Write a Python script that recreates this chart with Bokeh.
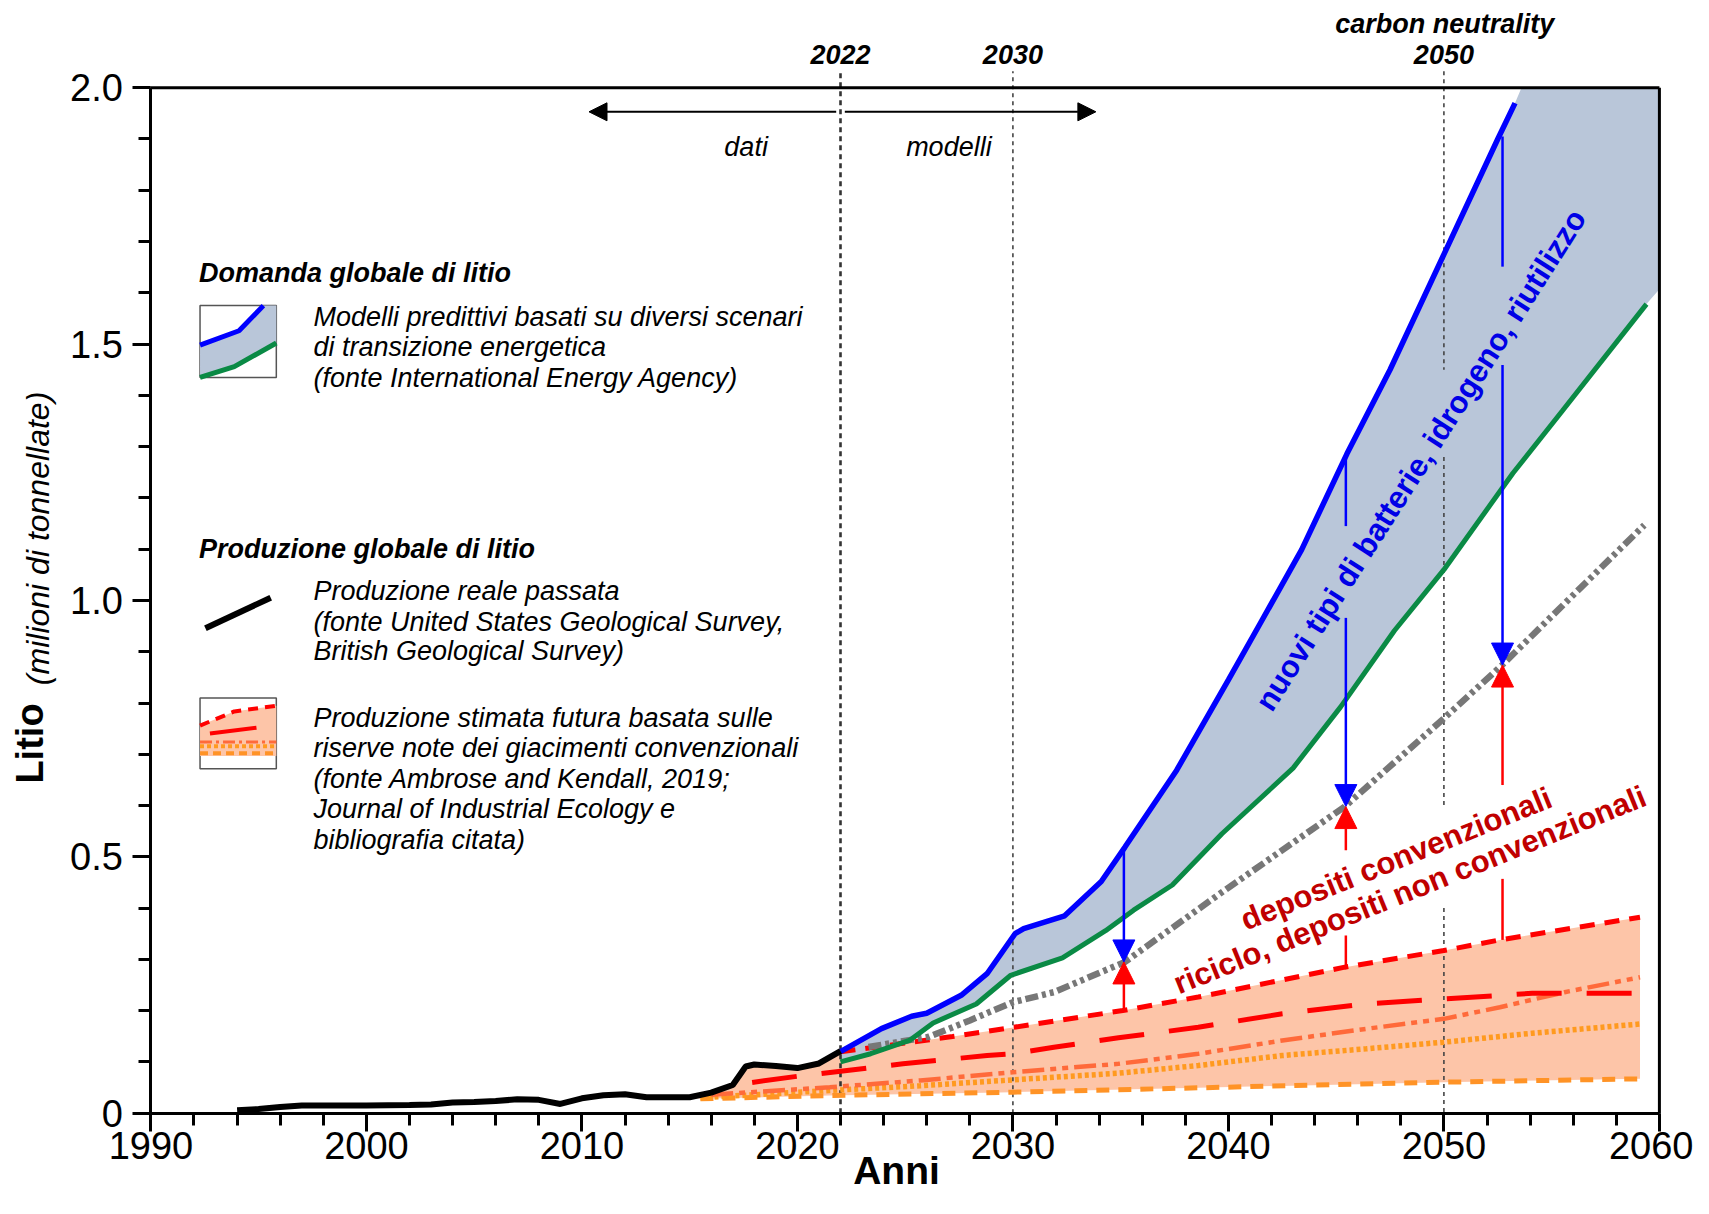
import math
from bokeh.plotting import figure
from bokeh.models import Range1d, FixedTicker, Label, Arrow, NormalHead, PrintfTickFormatter
from bokeh.embed import file_html
from bokeh.resources import INLINE

# ---------------- data ----------------
# past production (USGS / BGS), million tonnes
prod_years = [1994, 1995, 1996, 1997, 1998, 2000, 2002, 2003, 2004, 2005, 2006, 2007, 2008,
              2009, 2010, 2011, 2012, 2013, 2014, 2015, 2016, 2017, 2017.6, 2018, 2019,
              2020, 2021, 2022]
prod_vals = [0.006, 0.008, 0.012, 0.015, 0.015, 0.015, 0.016, 0.017, 0.021, 0.022, 0.024,
             0.027, 0.026, 0.018, 0.029, 0.035, 0.037, 0.031, 0.031, 0.031, 0.040, 0.055,
             0.091, 0.095, 0.092, 0.088, 0.097, 0.121]

# demand models (IEA): upper (blue) and lower (green) scenarios
blue_years = [2022, 2023.9, 2025.3, 2026, 2027.6, 2028.8, 2030.1, 2030.5, 2032.4, 2034.1,
              2035.2, 2037.6, 2040, 2041.5, 2043.4, 2045.5, 2047.5, 2050, 2052.5, 2053.3]
blue_vals = [0.12, 0.165, 0.189, 0.195, 0.23, 0.272, 0.35, 0.36, 0.385, 0.452, 0.519, 0.669,
             0.845, 0.957, 1.099, 1.286, 1.45, 1.675, 1.90, 1.97]
blue_band_cap_years = [2053.6, 2060]
blue_band_cap_vals = [2.0, 2.0]
green_years = [2022, 2023.4, 2025.2, 2026.3, 2028.3, 2029.9, 2032.3, 2034.3, 2035.6, 2037.4,
               2039.7, 2043, 2045.2, 2047.7, 2050, 2053.2, 2055.5, 2059.4]
green_vals = [0.10, 0.116, 0.142, 0.176, 0.213, 0.269, 0.303, 0.356, 0.396, 0.445, 0.545,
              0.673, 0.792, 0.941, 1.06, 1.248, 1.37, 1.578]
green_band_end_year = [2060]
green_band_end_val = [1.607]

# grey: demand reduced by new technologies
grey_years = [2023.3, 2026.1, 2028, 2030, 2031.9, 2035.2, 2039.5, 2045.4, 2050, 2052.7, 2059.3]
grey_vals = [0.129, 0.149, 0.181, 0.2165, 0.236, 0.295, 0.425, 0.598, 0.77, 0.874, 1.147]

# estimated future production (Ambrose & Kendall 2019)
redtop_years = [2022, 2023.4, 2027.2, 2031.1, 2035.1, 2038.6, 2045.4, 2050, 2052.6, 2059.1]
redtop_vals = [0.12, 0.1275, 0.1496, 0.1743, 0.2003, 0.2265, 0.2848, 0.3173, 0.338, 0.3823]
redlong_years = [2017.9, 2020, 2021, 2024.9, 2028.8, 2030, 2031.9, 2034.9, 2038.6, 2042.5,
                 2046.4, 2050, 2052.6, 2054.1, 2059.1]
redlong_vals = [0.06, 0.072, 0.077, 0.0963, 0.1125, 0.116, 0.1287, 0.147, 0.1677, 0.1938,
                0.2133, 0.223, 0.2296, 0.234, 0.234]
coral_years = [2016, 2021.5, 2025.7, 2030, 2034.9, 2038.6, 2042.5, 2046.4, 2050, 2052.6,
               2055.6, 2059.1]
coral_vals = [0.036, 0.0507, 0.0638, 0.080, 0.0963, 0.1158, 0.1418, 0.1646, 0.184, 0.2067,
              0.236, 0.2652]
dotted_years = [2015.5, 2021.5, 2025.7, 2030, 2034.9, 2038.6, 2042.5, 2046.4, 2050, 2054.1,
                2059.2]
dotted_vals = [0.03, 0.0443, 0.0535, 0.065, 0.078, 0.093, 0.1125, 0.1256, 0.1385, 0.156,
               0.1743]
dashed_years = [2015.5, 2021.5, 2030, 2038.6, 2050, 2059.1]
dashed_vals = [0.028, 0.0345, 0.041, 0.0495, 0.0605, 0.067]

# reference years
marker_years = [2022, 2030, 2050]
marker_labels = ["2022", "2030", "2050"]

# arrows: x position, blue (from demand to grey) and red (from production to grey)
arrow_x = [2035.15, 2045.45, 2052.72]
blue_arrow_top = [0.519, 1.286, 1.905]
blue_arrow_gap = [None, (1.145, 0.966), (1.651, 1.459)]
red_arrow_base = [0.2003, 0.2848, 0.338]
red_arrow_gap = [None, (0.3466, 0.513), (0.457, 0.64)]
arrow_tip = [0.295, 0.598, 0.874]

x_ticks = list(range(1990, 2061, 10))
x_minor = list(range(1990, 2061, 2))
y_ticks = [0, 0.5, 1.0, 1.5, 2.0]
y_minor = [i / 10 for i in range(21)]

# ---------------- colours ----------------
C_BLUE = "#0000ff"
C_GREEN = "#0a8a45"
C_GREY = "#777777"
C_RED = "#ff0000"
C_CORAL = "#ff6a3a"
C_ORANGE_DOT = "#ff9a1f"
C_ORANGE_DASH = "#ff9326"
C_DEM_FILL = "#b9c6d9"
C_PROD_FILL = "#fdc5a8"
C_TXT_RED = "#c00000"
C_TXT_BLUE = "#0000e6"

SANS = "Liberation Sans"

# whole canvas is the plot frame; axes are pinned to x=1990 / y=0
p = figure(width=1693, height=1198, output_backend="svg", toolbar_location=None, title=None,
           x_range=Range1d(1983.021, 2061.582), y_range=Range1d(-0.16636, 2.17007),
           min_border=0)
p.outline_line_color = None
p.xgrid.visible = False
p.ygrid.visible = False
p.background_fill_color = "white"
p.border_fill_color = "white"

xa = p.xaxis[0]
ya = p.yaxis[0]
xa.fixed_location = 0
ya.fixed_location = 1990
xa.ticker = FixedTicker(ticks=x_ticks, minor_ticks=x_minor)
ya.ticker = FixedTicker(ticks=y_ticks, minor_ticks=y_minor)
xa.bounds = (1990, 2060)
ya.bounds = (0, 2)
ya.formatter = PrintfTickFormatter(format="%.1f")
ya.major_label_overrides = {0: "0"}
for ax in (xa, ya):
    ax.axis_line_width = 3
    ax.axis_line_color = "black"
    ax.major_tick_line_width = 3
    ax.minor_tick_line_width = 3
    ax.major_tick_in = 0
    ax.minor_tick_in = 0
    ax.major_tick_out = 18
    ax.minor_tick_out = 12
    ax.major_label_text_font = SANS
    ax.major_label_text_font_size = "38px"
    ax.major_label_text_color = "black"
xa.major_label_standoff = 1
ya.major_label_standoff = 10

# ---------------- bands ----------------
band_top_x = [y for y in prod_years if y >= 2015] + redtop_years[1:]
band_top_y = [v for y, v in zip(prod_years, prod_vals) if y >= 2015] + redtop_vals[1:]
p.patch(band_top_x + dashed_years[::-1], band_top_y + dashed_vals[::-1],
        fill_color=C_PROD_FILL, line_color=None)

dem_x = blue_years + blue_band_cap_years + green_band_end_year + green_years[::-1]
dem_y = blue_vals + blue_band_cap_vals + green_band_end_val + green_vals[::-1]
p.patch(dem_x, dem_y, fill_color=C_DEM_FILL, line_color=None)

# ---------------- reference lines ----------------
top_ext = 2.032
p.segment(x0=[2022], y0=[0], x1=[2022], y1=[top_ext], line_color="#333333", line_width=2.6,
          line_dash="5 4")
p.segment(x0=[2030], y0=[0], x1=[2030], y1=[top_ext], line_color="#444444", line_width=1.6,
          line_dash="4 4")
p.segment(x0=[2050, 2050, 2050], y0=[top_ext, 1.28, 0.40], x1=[2050, 2050, 2050],
          y1=[1.45, 0.595, 0.0], line_color="#444444", line_width=1.6, line_dash="4 4")

# ---------------- production projection lines ----------------
p.line(dashed_years, dashed_vals, line_color=C_ORANGE_DASH, line_width=5, line_dash="13 9")
p.line(dotted_years, dotted_vals, line_color=C_ORANGE_DOT, line_width=5.5, line_dash="4 3")
p.line(coral_years, coral_vals, line_color=C_CORAL, line_width=4.5,
       line_dash="22 6 6 6 6 6")
p.line(redlong_years, redlong_vals, line_color=C_RED, line_width=5, line_dash="45 25")
p.line(redtop_years, redtop_vals, line_color=C_RED, line_width=5, line_dash="15 10")

# ---------------- demand lines ----------------
p.line(grey_years, grey_vals, line_color=C_GREY, line_width=6.5, line_dash="13 4 4 4 4 4")
p.line(green_years, green_vals, line_color=C_GREEN, line_width=5)
p.line(blue_years, blue_vals, line_color=C_BLUE, line_width=5.5)
p.line(prod_years, prod_vals, line_color="black", line_width=6)

# ---------------- frame (top and right) ----------------
p.segment(x0=[1990, 2060], y0=[2.0, 0], x1=[2060, 2060], y1=[2.0, 2.0],
          line_color="black", line_width=3)

# ---------------- arrows ----------------
for i, x in enumerate(arrow_x):
    if blue_arrow_gap[i] is None:
        b_start = blue_arrow_top[i]
    else:
        p.segment(x0=[x], y0=[blue_arrow_top[i]], x1=[x], y1=[blue_arrow_gap[i][0]],
                  line_color=C_BLUE, line_width=2.5)
        b_start = blue_arrow_gap[i][1]
    p.add_layout(Arrow(end=NormalHead(size=22, fill_color=C_BLUE, line_color=C_BLUE),
                       x_start=x, y_start=b_start, x_end=x, y_end=arrow_tip[i],
                       line_color=C_BLUE, line_width=2.5))
    if red_arrow_gap[i] is None:
        r_start = red_arrow_base[i]
    else:
        p.segment(x0=[x], y0=[red_arrow_base[i]], x1=[x], y1=[red_arrow_gap[i][0]],
                  line_color=C_RED, line_width=2.5)
        r_start = red_arrow_gap[i][1]
    p.add_layout(Arrow(end=NormalHead(size=22, fill_color=C_RED, line_color=C_RED),
                       x_start=x, y_start=r_start, x_end=x, y_end=arrow_tip[i],
                       line_color=C_RED, line_width=2.5))

# data / models double arrow
p.add_layout(Arrow(end=NormalHead(size=18, fill_color="black", line_color="black"),
                   x_start=2021.8, y_start=1.953, x_end=2010.33, y_end=1.953,
                   line_color="black", line_width=2))
p.add_layout(Arrow(end=NormalHead(size=18, fill_color="black", line_color="black"),
                   x_start=2022.2, y_start=1.953, x_end=2033.85, y_end=1.953,
                   line_color="black", line_width=2))


def lab(x, y, text, size, font=SANS, style="normal", color="black", align="left",
        baseline="middle", angle=0.0):
    p.add_layout(Label(x=x, y=y, text=text, text_font=font, text_font_size=f"{size}px",
                       text_font_style=style, text_color=color, text_align=align,
                       text_baseline=baseline, angle=angle))


# top labels
for yr, t in zip(marker_years, marker_labels):
    lab(yr, 2.0638, t, 27, style="bold italic", align="center")
lab(2050.04, 2.1233, "carbon neutrality", 27, style="bold italic", align="center")
lab(2017.62, 1.8852, "dati", 27, style="italic", align="center")
lab(2027.03, 1.8852, "modelli", 27, style="italic", align="center")

# rotated annotations
lab(2048.93, 1.274, "nuovi tipi di batterie, idrogeno, riutilizzo", 31, style="bold",
    color=C_TXT_BLUE, align="center", angle=math.radians(57.5))
lab(2047.79, 0.4963, "depositi convenzionali", 31, style="bold", color=C_TXT_RED,
    align="center", angle=math.radians(22))
lab(2048.42, 0.4357, "riciclo, depositi non convenzionali", 31, style="bold",
    color=C_TXT_RED, align="center", angle=math.radians(22))

# ---------------- legend ----------------
LX0, LX1 = 1992.28, 1995.82
p.quad(left=[LX0, LX0], right=[LX1, LX1], bottom=[1.435, 0.6716], top=[1.575, 0.8098],
       fill_color="white", line_color="#555555", line_width=1.5)
# demand icon
p.patch([1992.28, 1994.09, 1995.22, 1995.82, 1995.82, 1993.87, 1992.28],
        [1.498, 1.526, 1.575, 1.575, 1.502, 1.456, 1.435],
        fill_color=C_DEM_FILL, line_color=None)
p.line([1992.28, 1994.09, 1995.22], [1.498, 1.526, 1.575], line_color=C_BLUE, line_width=5)
p.line([1992.28, 1993.87, 1995.82], [1.435, 1.456, 1.502], line_color=C_GREEN, line_width=5)
# production icon
p.patch([1992.28, 1993.87, 1995.82, 1995.82, 1992.28],
        [0.756, 0.7835, 0.7946, 0.6965, 0.6965], fill_color=C_PROD_FILL, line_color=None)
p.line([1992.28, 1993.87, 1995.82], [0.756, 0.7835, 0.7946], line_color=C_RED, line_width=4,
       line_dash="10 7")
p.line([1992.74, 1994.90], [0.7407, 0.7518], line_color=C_RED, line_width=4)
p.line([1992.28, 1995.82], [0.7241, 0.7241], line_color=C_CORAL, line_width=3,
       line_dash="12 4 3 4")
p.line([1992.28, 1995.82], [0.7158, 0.7158], line_color=C_ORANGE_DOT, line_width=4,
       line_dash="4 3")
p.line([1992.28, 1995.82], [0.702, 0.702], line_color=C_ORANGE_DASH, line_width=4,
       line_dash="8 5")
# past production icon
p.line([1992.53, 1995.56], [0.9458, 1.0053], line_color="black", line_width=6)

TX = 1997.54
lab(1992.23, 1.6387, "Domanda globale di litio", 27, style="bold italic")
for yv, t in zip([1.5537, 1.4942, 1.4347],
                 ["Modelli predittivi basati su diversi scenari",
                  "di transizione energetica",
                  "(fonte International Energy Agency)"]):
    lab(TX, yv, t, 27, style="italic")
lab(1992.23, 1.101, "Produzione globale di litio", 27, style="bold italic")
for yv, t in zip([1.018, 0.9585, 0.901],
                 ["Produzione reale passata",
                  "(fonte United States Geological Survey,",
                  "British Geological Survey)"]):
    lab(TX, yv, t, 27, style="italic")
for yv, t in zip([0.7715, 0.712, 0.6525, 0.593, 0.5335],
                 ["Produzione stimata futura basata sulle",
                  "riserve note dei giacimenti convenzionali",
                  "(fonte Ambrose and Kendall, 2019;",
                  "Journal of Industrial Ecology e",
                  "bibliografia citata)"]):
    lab(TX, yv, t, 27, style="italic")

# ---------------- axis titles ----------------
lab(2024.6, -0.112, "Anni", 39, style="bold", align="center", baseline="middle")
lab(1984.38, 0.721, "Litio", 38, style="bold", align="center", baseline="alphabetic",
    angle=math.pi / 2)
lab(1984.77, 1.121, "(milioni di tonnellate)", 32, style="italic", align="center",
    baseline="alphabetic", angle=math.pi / 2)

open("out.html", "w").write(file_html(p, INLINE))
